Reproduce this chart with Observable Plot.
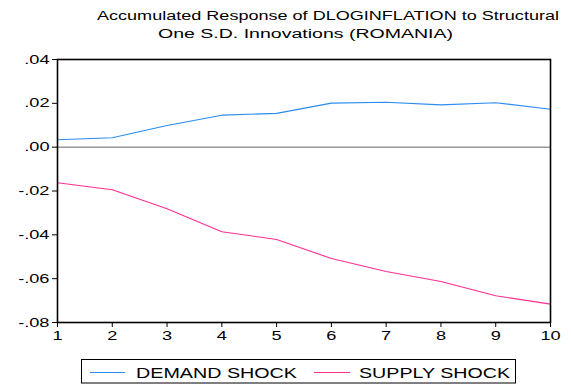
<!DOCTYPE html>
<html>
<head>
<meta charset="utf-8">
<script src="https://cdn.jsdelivr.net/npm/d3@7"></script>
<script src="https://cdn.jsdelivr.net/npm/@observablehq/plot@0.6"></script>
<style>
  html, body { margin: 0; padding: 0; background: #fff; }
  #wrap { position: relative; width: 571px; height: 385px; }
  #chart, #overlay { position: absolute; left: 0; top: 0; }
</style>
</head>
<body>
<div id="wrap">
  <div id="chart"></div>
  <svg id="overlay" width="571" height="385"></svg>
</div>
<script>
const periods = [1, 2, 3, 4, 5, 6, 7, 8, 9, 10];
const demandShock = [0.0034, 0.0043, 0.0099, 0.0146, 0.0154, 0.0201, 0.0205, 0.0193, 0.0203, 0.0173];
const supplyShock = [-0.0162, -0.0194, -0.0281, -0.0386, -0.0421, -0.0508, -0.0567, -0.0613, -0.0678, -0.0716];
const seriesNames = ["DEMAND SHOCK", "SUPPLY SHOCK"];
const seriesColors = ["#2b8cf0", "#ff2e93"];
const yTicks = [0.04, 0.02, 0.00, -0.02, -0.04, -0.06, -0.08];
const titleLines = ["Accumulated Response of DLOGINFLATION to Structural", "One S.D. Innovations (ROMANIA)"];

const FONT = "'Liberation Sans', Arial, sans-serif";
const STRETCH = 1.4;

const data = [];
periods.forEach((p, i) => {
  data.push({period: p, value: demandShock[i], series: seriesNames[0]});
  data.push({period: p, value: supplyShock[i], series: seriesNames[1]});
});

const fmt = d => (d < 0 ? "-" : "") + Math.abs(d).toFixed(2).replace(/^0/, "");

const chart = Plot.plot({
  width: 571,
  height: 385,
  marginLeft: 57,
  marginRight: 21,
  marginTop: 59,
  marginBottom: 63,
  style: {fontFamily: FONT, fontSize: "13px", color: "#000", background: "transparent"},
  x: {domain: [1, 10], ticks: periods, tickFormat: d => String(d), label: null, tickSize: 5, tickPadding: 3},
  y: {domain: [-0.08, 0.04], ticks: yTicks, tickFormat: fmt, label: null, tickSize: 5, tickPadding: 3},
  color: {domain: seriesNames, range: seriesColors},
  marks: [
    Plot.ruleY([0], {stroke: "#666", strokeWidth: 1}),
    Plot.line(data, {x: "period", y: "value", z: "series", stroke: "series", strokeWidth: 1.1}),
    Plot.frame({stroke: "#000", strokeWidth: 1.6})
  ]
});
document.getElementById("chart").appendChild(chart);

// horizontally stretched tick labels, as in the reference rendering
d3.select(chart).selectAll("g[aria-label$='tick label'] text").each(function() {
  const t = this.getAttribute("transform") || "";
  this.setAttribute("transform", t + ` scale(${STRETCH},1)`);
});

// title and legend
const ov = d3.select("#overlay");
const titleSpecs = [
  {x0: 97, x1: 559, y: 19.5},
  {x0: 158, x1: 453, y: 37.5}
];
titleLines.forEach((line, i) => {
  const s = titleSpecs[i];
  ov.append("text")
    .attr("x", s.x0).attr("y", s.y)
    .attr("textLength", s.x1 - s.x0)
    .attr("lengthAdjust", "spacingAndGlyphs")
    .style("font-family", FONT).style("font-size", "12.5px").attr("fill", "#000")
    .text(line);
});

ov.append("rect")
  .attr("x", 81.5).attr("y", 359.5).attr("width", 434).attr("height", 23.5)
  .attr("fill", "none").attr("stroke", "#000").attr("stroke-width", 1);

const legendSpecs = [
  {sw0: 90, sw1: 125, tx0: 136, tx1: 297},
  {sw0: 314, sw1: 350, tx0: 359, tx1: 510}
];
seriesNames.forEach((name, i) => {
  const s = legendSpecs[i];
  ov.append("line")
    .attr("x1", s.sw0).attr("x2", s.sw1).attr("y1", 372.5).attr("y2", 372.5)
    .attr("stroke", seriesColors[i]).attr("stroke-width", 1);
  ov.append("text")
    .attr("x", s.tx0).attr("y", 378)
    .attr("textLength", s.tx1 - s.tx0)
    .attr("lengthAdjust", "spacingAndGlyphs")
    .style("font-family", FONT).style("font-size", "14.5px").attr("fill", "#000")
    .text(name);
});
</script>
</body>
</html>
